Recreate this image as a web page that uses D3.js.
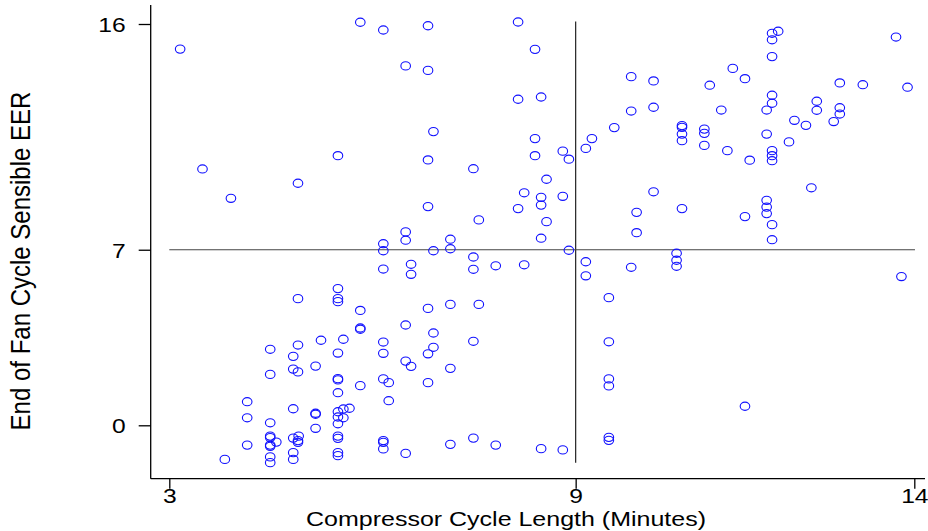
<!DOCTYPE html>
<html>
<head>
<meta charset="utf-8">
<script src="https://cdn.jsdelivr.net/npm/d3@7"></script>
<style>
  html, body { margin: 0; padding: 0; background: #fff; }
  svg { display: block; }
  text { font-family: "Liberation Sans", Arial, sans-serif; fill: #000; }
</style>
</head>
<body>
<svg id="chart" width="928" height="531"></svg>
<script>
// Compressor cycle length (minutes)
const compressorCycle = [
  3.16, 5.82, 6.16, 6.49, 5.49, 3.49, 6.82, 8.15, 8.40, 6.82, 9.82, 10.15, 8.15, 8.49, 9.82, 10.15, 9.57, 6.90, 8.40, 9.24,
  9.15, 8.81, 8.90, 8.40, 6.82, 7.49,
  13.73, 11.99, 11.90, 11.90, 11.90, 11.32, 11.50, 10.98, 12.90, 13.24, 13.90, 11.90, 11.90, 11.82, 12.56, 12.56, 12.90, 12.90,
  12.81, 11.15, 12.23, 12.40, 10.57, 10.57, 10.57, 10.57, 10.90, 10.90, 10.90, 11.82, 12.15, 11.24, 11.57, 11.90, 11.90, 11.90,
  4.90, 3.91, 6.49, 6.49, 6.16, 6.16, 6.16, 6.57, 6.57, 5.49, 4.90, 5.49, 5.49, 5.82,
  8.57, 8.24, 8.49, 8.81, 8.49, 8.15, 6.82, 7.57, 8.57, 10.15, 9.90, 9.90, 7.15, 8.49, 7.15, 6.90, 8.90, 7.49, 7.49, 7.82,
  8.24, 9.15, 9.15, 9.82, 9.49, 6.82, 7.15, 7.57,
  12.48, 10.57, 11.50, 11.82, 11.82, 11.82, 11.90, 11.90, 10.49, 10.49, 10.49, 13.81,
  6.49, 5.82, 5.82, 4.49, 4.90, 5.24, 5.57, 6.16, 5.49, 6.16, 4.83, 6.49, 6.57, 5.16, 4.83, 4.90, 4.49, 5.49, 5.49, 6.16,
  6.24, 5.82, 5.49, 4.15, 6.24, 4.83, 5.66, 5.57, 5.16, 5.16, 5.49, 5.49, 5.57, 4.15, 4.49, 5.49, 5.16, 4.49, 4.49, 4.83,
  4.91, 4.90, 4.90, 4.58, 4.49, 4.49, 5.49, 5.49, 6.16, 6.16, 6.16, 4.15, 6.49, 4.83, 4.83, 5.49, 5.49, 4.49, 4.49, 3.82,
  6.90, 7.49, 6.90, 6.82, 7.15, 6.82, 7.15, 7.49, 7.82, 8.49, 8.81, 9.49, 9.49, 9.49, 9.49, 9.49, 11.50
];
// End of fan cycle sensible EER
const sensibleEER = [
  15.00, 16.07, 15.76, 14.33, 10.75, 10.22, 15.93, 16.08, 14.99, 14.15, 13.90, 13.73, 13.00, 13.09, 12.53, 12.68, 11.87, 11.71, 11.43, 11.43,
  11.04, 10.93, 10.61, 10.75, 10.58, 10.23,
  15.48, 15.71, 15.63, 15.37, 14.70, 14.23, 13.82, 13.56, 13.65, 13.58, 13.48, 13.16, 12.84, 12.57, 12.92, 12.56, 12.66, 12.41,
  12.11, 12.57, 12.16, 11.96, 11.95, 11.88, 11.61, 11.35, 11.81, 11.64, 11.16, 11.61, 11.30, 10.95, 10.57, 10.95, 10.75, 10.55,
  9.65, 9.05, 7.71, 7.38, 7.24, 6.96, 6.23, 6.42, 6.02, 5.45, 5.05, 5.05, 4.93, 4.58,
  9.81, 9.27, 9.09, 9.13, 8.78, 8.64, 8.72, 8.19, 8.12, 9.31, 8.49, 7.68, 7.42, 7.46, 7.04, 6.96, 6.98, 6.71, 6.22, 6.36,
  6.40, 6.52, 5.96, 6.30, 5.09, 4.66, 4.82, 4.82,
  9.47, 8.64, 8.32, 8.97, 8.70, 8.44, 8.00, 7.40, 6.86, 6.58, 6.34, 5.93,
  4.00, 3.88, 3.83, 3.03, 3.20, 3.39, 3.43, 3.32, 2.88, 2.87, 2.75, 2.56, 2.35, 2.36, 2.24, 2.13, 2.03, 1.86, 1.81, 1.85,
  1.70, 1.58, 1.30, 0.94, 0.98, 0.66, 0.68, 0.65, 0.48, 0.44, 0.54, 0.33, 0.30, 0.30, 0.10, 0.06, -0.12, -0.43, -0.49, -0.51,
  -0.43, -0.61, -0.68, -0.67, -0.79, -0.84, -0.43, -0.52, -0.61, -0.68, -0.94, -0.79, -1.12, -1.09, -1.36, -1.09, -1.21, -1.26, -1.49, -1.36,
  3.68, 3.35, 3.11, 2.85, 2.27, 1.70, -0.76, -0.51, -0.79, -0.93, -0.98, 3.33, 1.85, 1.57, -0.48, -0.60, 0.76
];
const xTicks = [3, 9, 14];
const yTicks = [0, 7, 16];
// reference lines: vertical at x = 9, horizontal at y = 7
const refX = 9, refXSpan = [-1.49, 16.1];
const refY = 7, refYSpan = [3, 14.01];
const xTitle = "Compressor Cycle Length (Minutes)";
const yTitle = "End of Fan Cycle Sensible EER";

const svg = d3.select("#chart");
const x = d3.scaleLinear().domain([3, 14]).range([169.3, 914.3]);
const y = d3.scaleLinear().domain([0, 16]).range([425.3, 24]);

const frameLeft = 150.7, frameBottom = 478.7, frameTop = 5, frameRight = 925;
const stretch = 1.2; // glyphs in the reference are drawn wider than tall

// frame lines
svg.append("line").attr("x1", frameLeft).attr("x2", frameLeft).attr("y1", frameTop).attr("y2", frameBottom)
  .attr("stroke", "#000").attr("stroke-width", 1.3);
svg.append("line").attr("x1", frameLeft).attr("x2", frameRight).attr("y1", frameBottom).attr("y2", frameBottom)
  .attr("stroke", "#000").attr("stroke-width", 1.3);

// axes
const yAxis = svg.append("g").attr("transform", `translate(${frameLeft},0)`)
  .call(d3.axisLeft(y).tickValues(yTicks).tickSize(12).tickPadding(11).tickFormat(d3.format("d")));
yAxis.select(".domain").remove();
yAxis.selectAll("line").attr("stroke", "#000").attr("stroke-width", 1.3);
yAxis.selectAll("text")
  .attr("x", 0).attr("dy", "0.36em")
  .attr("transform", `translate(-25,0) scale(${stretch},1)`)
  .style("font-size", "20.5px").style("font-family", "Liberation Sans, Arial, sans-serif").attr("fill", "#000");

const xAxis = svg.append("g").attr("transform", `translate(0,${frameBottom})`)
  .call(d3.axisBottom(x).tickValues(xTicks).tickSize(10).tickPadding(2).tickFormat(d3.format("d")));
xAxis.select(".domain").remove();
xAxis.selectAll("line").attr("stroke", "#000").attr("stroke-width", 1.3);
xAxis.selectAll("text")
  .attr("y", 0).attr("dy", "0")
  .attr("transform", `translate(0,24) scale(${stretch},1)`)
  .style("font-size", "20.5px").style("font-family", "Liberation Sans, Arial, sans-serif").attr("fill", "#000");

// reference lines
svg.append("line").attr("x1", x(refX)).attr("x2", x(refX)).attr("y1", y(refXSpan[0])).attr("y2", y(refXSpan[1]))
  .attr("stroke", "#222").attr("stroke-width", 1.2);
svg.append("line").attr("x1", x(refYSpan[0])).attr("x2", x(refYSpan[1])).attr("y1", y(refY)).attr("y2", y(refY))
  .attr("stroke", "#444").attr("stroke-width", 1.2);

// points
const pts = compressorCycle.map((v, i) => ({ x: v, y: sensibleEER[i] }));
svg.append("g").selectAll("ellipse").data(pts).join("ellipse")
  .attr("cx", d => x(d.x)).attr("cy", d => y(d.y)).attr("rx", 4.8).attr("ry", 4.1)
  .attr("fill", "none").attr("stroke", "#1010ff").attr("stroke-width", 1.1);

// titles
svg.append("text").attr("transform", `translate(506,526) scale(1.19,1)`).attr("text-anchor", "middle")
  .style("font-size", "21px").text(xTitle);
svg.append("text").attr("transform", `translate(30,261) rotate(-90) scale(1,1.15)`).attr("text-anchor", "middle")
  .style("font-size", "24px").text(yTitle);
</script>
</body>
</html>
